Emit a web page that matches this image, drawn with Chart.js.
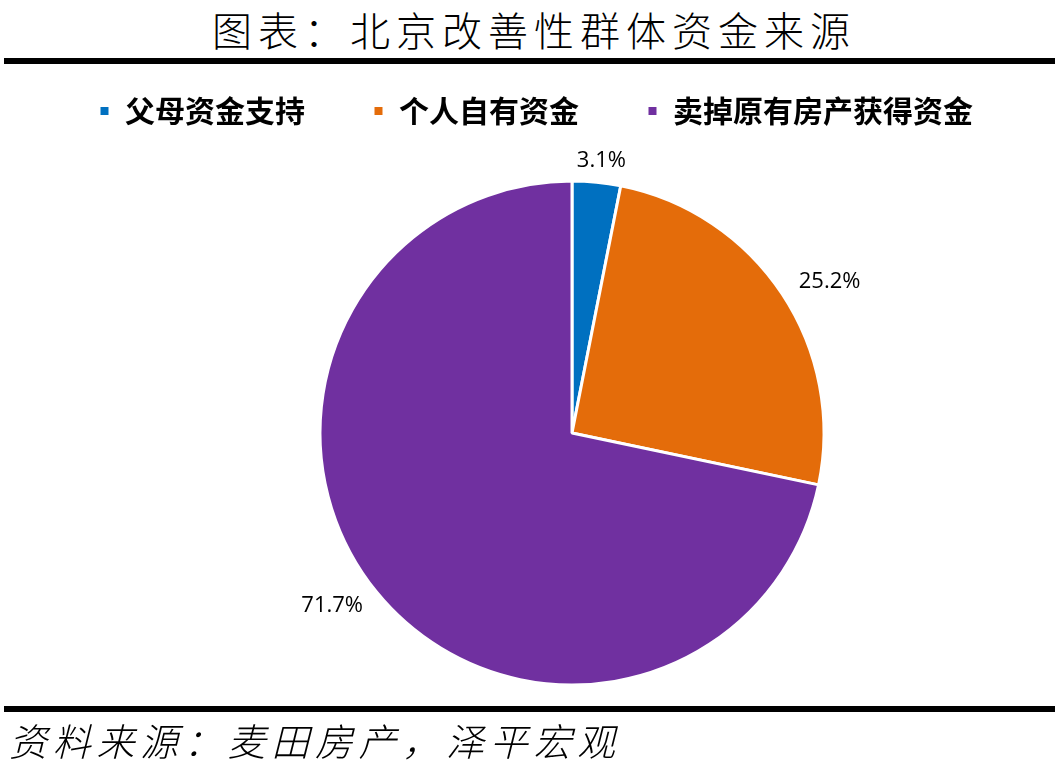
<!DOCTYPE html>
<html>
<head>
<meta charset="utf-8">
<script src="https://cdn.jsdelivr.net/npm/chart.js@4"></script>
<style>
  body { margin: 0; width: 1058px; height: 764px; background: #fff; position: relative; overflow: hidden; }
  #title { position: absolute; top: 0px; left: 5px; width: 1058px; text-align: center; font-family: "Noto Sans CJK SC"; font-weight: 300; font-size: 40px; letter-spacing: 6px; color: #000; }
  .rule { position: absolute; left: 4px; width: 1051px; height: 6px; background: #000; }
  #wrap { position: absolute; left: 0; top: 28px; width: 1200px; height: 720px; }
  #source { position: absolute; left: 9px; top: 712px; font-family: "Noto Sans CJK SC"; font-weight: 300; font-style: italic; font-size: 38px; letter-spacing: 5.7px; color: #000; }
</style>
</head>
<body>
<div id="title">图表：北京改善性群体资金来源</div>
<div class="rule" style="top:58px"></div>
<div id="wrap"><canvas id="chart"></canvas></div>
<div class="rule" style="top:706px"></div>
<div id="source">资料来源：麦田房产，泽平宏观</div>
<script>
const categories = ["父母资金支持", "个人自有资金", "卖掉原有房产获得资金"];
const shares = [3.1, 25.2, 71.7];
const colors = ["#0070C0", "#E46C0A", "#7030A0"];

// percentage labels just outside each slice
const outsideLabels = {
  id: "outsideLabels",
  afterDatasetsDraw(chart) {
    const ctx = chart.ctx;
    const meta = chart.getDatasetMeta(0);
    ctx.save();
    ctx.font = "22px 'Open Sans'";
    ctx.fillStyle = "#000";
    ctx.textAlign = "center";
    ctx.textBaseline = "middle";
    meta.data.forEach((arc, i) => {
      const p = arc.getProps(["x", "y", "startAngle", "endAngle", "outerRadius"], true);
      const mid = (p.startAngle + p.endAngle) / 2;
      const txt = shares[i].toFixed(1) + "%";
      const w = ctx.measureText(txt).width;
      const h = 20;
      const d = p.outerRadius + 12;
      const ax = p.x + d * Math.cos(mid);
      const ay = p.y + d * Math.sin(mid);
      const cx = ax + (w / 2 + 14) * Math.cos(mid);
      const cy = ay + (h / 2) * Math.sin(mid);
      ctx.fillText(txt, cx, cy);
    });
    ctx.restore();
  }
};

new Chart(document.getElementById("chart"), {
  type: "pie",
  data: {
    labels: categories,
    datasets: [{
      data: shares,
      backgroundColor: colors,
      borderColor: "#ffffff",
      borderWidth: 3,
      radius: 252,
      clip: false
    }]
  },
  options: {
    responsive: true,
    maintainAspectRatio: false,
    animation: false,
    layout: { padding: { left: 31, right: 87, top: 0, bottom: 18 } },
    plugins: {
      legend: {
        position: "top",
        align: "start",
        labels: {
          boxWidth: 11,
          boxHeight: 11,
          padding: 68,
          color: "#000",
          font: { family: "Noto Sans CJK SC", weight: "bold", size: 30 }
        }
      },
      tooltip: { enabled: false }
    }
  },
  plugins: [outsideLabels]
});
</script>
</body>
</html>
